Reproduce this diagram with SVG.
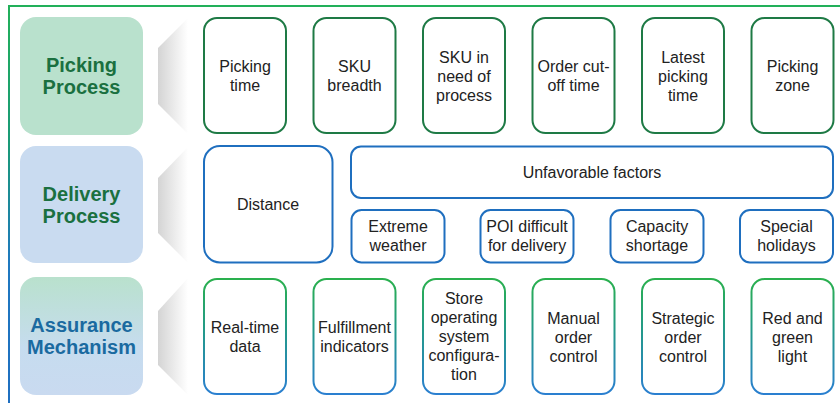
<svg xmlns="http://www.w3.org/2000/svg" width="840" height="403" viewBox="0 0 840 403">
  <defs>
    <linearGradient id="frameStroke" gradientUnits="userSpaceOnUse" x1="0" y1="6" x2="0" y2="403">
      <stop offset="0" stop-color="#22b05a"/>
      <stop offset="0.35" stop-color="#1a9a78"/>
      <stop offset="0.65" stop-color="#1f78c0"/>
      <stop offset="1" stop-color="#1f6fc0"/>
    </linearGradient>
    <linearGradient id="assureFill" x1="0" y1="0" x2="0" y2="1">
      <stop offset="0" stop-color="#b9e1cd"/>
      <stop offset="0.6" stop-color="#c6dcef"/>
      <stop offset="1" stop-color="#c9daf0"/>
    </linearGradient>
    <linearGradient id="assureStroke" x1="0" y1="0" x2="0" y2="1">
      <stop offset="0" stop-color="#2ab04e"/>
      <stop offset="0.45" stop-color="#23998a"/>
      <stop offset="1" stop-color="#2a7fd0"/>
    </linearGradient>
    <linearGradient id="wedge" x1="0" y1="0" x2="1" y2="0">
      <stop offset="0" stop-color="#d4d4d4"/>
      <stop offset="1" stop-color="#ffffff"/>
    </linearGradient>
  </defs>
  <style>
    .cat { font-family: "Liberation Sans", Arial, sans-serif; font-weight: bold; font-size: 20px; text-anchor: middle; }
    .lbl { font-family: "Liberation Sans", Arial, sans-serif; font-size: 16px; fill: #222222; text-anchor: middle; }
    .pick { fill: #ffffff; stroke: #1e7a45; stroke-width: 2; }
    .deliv { fill: #ffffff; stroke: #1f6fbf; stroke-width: 2; }
    .assure { fill: #ffffff; stroke: url(#assureStroke); stroke-width: 2; }
    .wedge { fill: url(#wedge); }
  </style>

  <rect x="0" y="0" width="840" height="403" fill="#ffffff"/>

  <!-- outer frame, only top and left edges fall inside the canvas -->
  <rect id="frame" x="9" y="6" width="900" height="500" fill="none" stroke="url(#frameStroke)" stroke-width="2"/>

  <!-- category blocks -->
  <g id="cat-picking">
    <rect x="20" y="17" width="123" height="118" rx="16" fill="#b9e1cd"/>
    <text class="cat" fill="#1a7040"><tspan x="81.5" y="72">Picking</tspan><tspan x="81.5" y="94">Process</tspan></text>
  </g>
  <g id="cat-delivery">
    <rect x="20" y="146" width="123" height="117" rx="16" fill="#c9dbf0"/>
    <text class="cat" fill="#1a7040"><tspan x="81.5" y="200.5">Delivery</tspan><tspan x="81.5" y="222.5">Process</tspan></text>
  </g>
  <g id="cat-assurance">
    <rect x="20" y="277" width="123" height="118" rx="16" fill="url(#assureFill)"/>
    <text class="cat" fill="#1a6aa0"><tspan x="81.5" y="332">Assurance</tspan><tspan x="81.5" y="354">Mechanism</tspan></text>
  </g>

  <!-- fan-out wedges linking each category to its items -->
  <g id="connectors">
    <polygon class="wedge" points="158,48 188,18 188,134 158,104"/>
    <polygon class="wedge" points="158,178 188,147 188,263 158,233"/>
    <polygon class="wedge" points="158,311 188,278 188,395 158,365"/>
  </g>

  <!-- picking process items -->
  <g id="pick-time">
    <rect class="pick" x="204" y="18" width="82" height="115" rx="13"/>
    <text class="lbl"><tspan x="245" y="72">Picking</tspan><tspan x="245" y="91">time</tspan></text>
  </g>
  <g id="pick-sku-breadth">
    <rect class="pick" x="313.5" y="18" width="82" height="115" rx="13"/>
    <text class="lbl"><tspan x="354.5" y="72">SKU</tspan><tspan x="354.5" y="91">breadth</tspan></text>
  </g>
  <g id="pick-sku-process">
    <rect class="pick" x="423" y="18" width="82" height="115" rx="13"/>
    <text class="lbl"><tspan x="464" y="62.5">SKU in</tspan><tspan x="464" y="81.5">need of</tspan><tspan x="464" y="100.5">process</tspan></text>
  </g>
  <g id="pick-cutoff">
    <rect class="pick" x="532.5" y="18" width="82" height="115" rx="13"/>
    <text class="lbl"><tspan x="573.5" y="72">Order cut-</tspan><tspan x="573.5" y="91">off time</tspan></text>
  </g>
  <g id="pick-latest">
    <rect class="pick" x="642" y="18" width="82" height="115" rx="13"/>
    <text class="lbl"><tspan x="683" y="62.5">Latest</tspan><tspan x="683" y="81.5">picking</tspan><tspan x="683" y="100.5">time</tspan></text>
  </g>
  <g id="pick-zone">
    <rect class="pick" x="751.5" y="18" width="82" height="115" rx="13"/>
    <text class="lbl"><tspan x="792.5" y="72">Picking</tspan><tspan x="792.5" y="91">zone</tspan></text>
  </g>

  <!-- delivery process items -->
  <g id="deliv-distance">
    <rect class="deliv" x="204" y="146" width="128.5" height="116.5" rx="16"/>
    <text class="lbl" x="268" y="210">Distance</text>
  </g>
  <g id="deliv-unfavorable">
    <rect class="deliv" x="351" y="146.5" width="482" height="51.5" rx="10"/>
    <text class="lbl" x="592" y="177.5">Unfavorable factors</text>
  </g>
  <g id="deliv-weather">
    <rect class="deliv" x="351.5" y="210" width="93" height="52.5" rx="10"/>
    <text class="lbl"><tspan x="398" y="232">Extreme</tspan><tspan x="398" y="251">weather</tspan></text>
  </g>
  <g id="deliv-poi">
    <rect class="deliv" x="480.5" y="210" width="93" height="52.5" rx="10"/>
    <text class="lbl"><tspan x="527" y="232">POI difficult</tspan><tspan x="527" y="251">for delivery</tspan></text>
  </g>
  <g id="deliv-capacity">
    <rect class="deliv" x="610.5" y="210" width="93" height="52.5" rx="10"/>
    <text class="lbl"><tspan x="657" y="232">Capacity</tspan><tspan x="657" y="251">shortage</tspan></text>
  </g>
  <g id="deliv-holidays">
    <rect class="deliv" x="740" y="210" width="93" height="52.5" rx="10"/>
    <text class="lbl"><tspan x="786.5" y="232">Special</tspan><tspan x="786.5" y="251">holidays</tspan></text>
  </g>

  <!-- assurance mechanism items -->
  <g id="assure-realtime">
    <rect class="assure" x="204" y="279" width="82" height="115" rx="13"/>
    <text class="lbl"><tspan x="245" y="333">Real-time</tspan><tspan x="245" y="352">data</tspan></text>
  </g>
  <g id="assure-fulfillment">
    <rect class="assure" x="313.5" y="279" width="82" height="115" rx="13"/>
    <text class="lbl"><tspan x="354.5" y="333">Fulfillment</tspan><tspan x="354.5" y="352">indicators</tspan></text>
  </g>
  <g id="assure-config">
    <rect class="assure" x="423" y="279" width="82" height="115" rx="13"/>
    <text class="lbl"><tspan x="464" y="304">Store</tspan><tspan x="464" y="323">operating</tspan><tspan x="464" y="342">system</tspan><tspan x="464" y="361">configura-</tspan><tspan x="464" y="380">tion</tspan></text>
  </g>
  <g id="assure-manual">
    <rect class="assure" x="532.5" y="279" width="82" height="115" rx="13"/>
    <text class="lbl"><tspan x="573.5" y="323.5">Manual</tspan><tspan x="573.5" y="342.5">order</tspan><tspan x="573.5" y="361.5">control</tspan></text>
  </g>
  <g id="assure-strategic">
    <rect class="assure" x="642" y="279" width="82" height="115" rx="13"/>
    <text class="lbl"><tspan x="683" y="323.5">Strategic</tspan><tspan x="683" y="342.5">order</tspan><tspan x="683" y="361.5">control</tspan></text>
  </g>
  <g id="assure-light">
    <rect class="assure" x="751.5" y="279" width="82" height="115" rx="13"/>
    <text class="lbl"><tspan x="792.5" y="323.5">Red and</tspan><tspan x="792.5" y="342.5">green</tspan><tspan x="792.5" y="361.5">light</tspan></text>
  </g>
</svg>
